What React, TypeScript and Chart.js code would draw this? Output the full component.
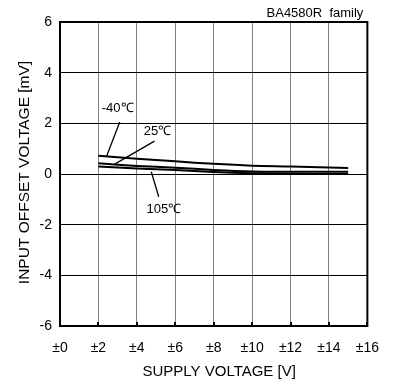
import React, { useEffect, useRef } from 'react';
import { Chart, registerables } from 'chart.js';

Chart.register(...registerables);

const supplyVoltage = [2, 4, 6, 8, 10, 12, 14, 15];
const offsetMinus40 = [0.72, 0.6, 0.5, 0.4, 0.33, 0.3, 0.26, 0.24];
const offset25 = [0.42, 0.32, 0.25, 0.16, 0.1, 0.09, 0.09, 0.09];
const offset105 = [0.3, 0.22, 0.16, 0.08, 0.03, 0.01, 0.0, 0.0];

const xTickValues = [0, 2, 4, 6, 8, 10, 12, 14, 16];
const yTickValues = [-6, -4, -2, 0, 2, 4, 6];

const xTitle = 'SUPPLY VOLTAGE [V]';
const yTitle = 'INPUT OFFSET VOLTAGE [mV]';
const familyLabel = 'BA4580R  family';

const annotationTexts = ['-40℃', '25℃', '105℃'];
const annotationTextX = [3.0, 5.07, 5.41];
const annotationTextY = [2.57, 1.7, -1.38];
const pointerFromX = [3.11, 4.92, 4.75];
const pointerFromY = [2.05, 1.3, 0.09];
const pointerToX = [2.43, 2.85, 5.14];
const pointerToY = [0.71, 0.39, -0.9];

const FONT = '"Liberation Sans", Arial, sans-serif';

export default function App() {
  const ref = useRef<HTMLCanvasElement | null>(null);

  useEffect(() => {
    const canvas = ref.current;
    if (!canvas) return;

    const mk = (vals: number[]) => supplyVoltage.map((x, i) => ({ x, y: vals[i] }));

    const overlay = {
      id: 'overlay',
      afterDraw(chart: any) {
        const { ctx, chartArea } = chart;
        const xs = chart.scales.x;
        const ys = chart.scales.y;
        ctx.save();
        // inward tick marks at bottom
        ctx.strokeStyle = '#000';
        ctx.lineWidth = 2;
        xTickValues.forEach((v) => {
          const px = Math.round(xs.getPixelForValue(v));
          ctx.beginPath();
          ctx.moveTo(px, chartArea.bottom);
          ctx.lineTo(px, chartArea.bottom - 4);
          ctx.stroke();
        });
        // frame
        ctx.lineWidth = 2;
        ctx.strokeRect(chartArea.left, chartArea.top, chartArea.right - chartArea.left, chartArea.bottom - chartArea.top);
        // annotations
        ctx.lineWidth = 1.3;
        ctx.fillStyle = '#000';
        ctx.font = `13px ${FONT}`;
        ctx.textAlign = 'center';
        ctx.textBaseline = 'middle';
        annotationTexts.forEach((t, i) => {
          ctx.fillText(t, xs.getPixelForValue(annotationTextX[i]), ys.getPixelForValue(annotationTextY[i]));
          ctx.beginPath();
          ctx.moveTo(xs.getPixelForValue(pointerFromX[i]), ys.getPixelForValue(pointerFromY[i]));
          ctx.lineTo(xs.getPixelForValue(pointerToX[i]), ys.getPixelForValue(pointerToY[i]));
          ctx.stroke();
        });
        // family label
        ctx.textAlign = 'right';
        ctx.font = `13px ${FONT}`;
        ctx.fillText(familyLabel, chartArea.right - 4, 13);
        // axis titles
        ctx.textBaseline = 'alphabetic';
        ctx.textAlign = 'center';
        ctx.font = `15px ${FONT}`;
        const midX = (chartArea.left + chartArea.right) / 2;
        ctx.fillText(xTitle, midX + 5.5, 376);
        ctx.save();
        const midY = (chartArea.top + chartArea.bottom) / 2;
        ctx.translate(28.5, midY - 1.5);
        ctx.rotate(-Math.PI / 2);
        ctx.font = `15.5px ${FONT}`;
        ctx.fillText(yTitle, 0, 0);
        ctx.restore();
        ctx.restore();
      },
    };

    const lineStyle = {
      borderColor: '#000',
      borderWidth: 2,
      pointRadius: 0,
      fill: false,
      tension: 0.3,
    };

    const chart = new Chart(canvas, {
      type: 'line',
      data: {
        datasets: [
          { label: '-40℃', data: mk(offsetMinus40), ...lineStyle },
          { label: '25℃', data: mk(offset25), ...lineStyle },
          { label: '105℃', data: mk(offset105), ...lineStyle },
        ],
      },
      options: {
        responsive: false,
        animation: false,
        events: [],
        layout: { padding: { top: 22, right: 24, left: 0, bottom: 0 } },
        plugins: { legend: { display: false }, tooltip: { enabled: false }, title: { display: false } },
        scales: {
          x: {
            type: 'linear',
            min: 0,
            max: 16,
            afterFit: (s: any) => { s.height = 54; },
            afterBuildTicks: (s: any) => { s.ticks = xTickValues.map((v) => ({ value: v })); },
            grid: { color: '#808080', lineWidth: 1, drawTicks: false },
            border: { display: false },
            ticks: {
              padding: 14,
              color: '#000',
              font: { family: FONT, size: 14 },
              maxRotation: 0,
              autoSkip: false,
              callback: (v: any) => '±' + v,
            },
            title: { display: false },
          },
          y: {
            type: 'linear',
            min: -6,
            max: 6,
            afterFit: (s: any) => { s.width = 60; },
            afterBuildTicks: (s: any) => { s.ticks = yTickValues.map((v) => ({ value: v })); },
            grid: { color: '#000', lineWidth: 1, drawTicks: false },
            border: { display: false },
            ticks: {
              padding: 8,
              color: '#000',
              font: { family: FONT, size: 14 },
              autoSkip: false,
              callback: (v: any) => String(v),
            },
            title: { display: false },
          },
        },
      },
      plugins: [overlay],
    });

    return () => chart.destroy();
  }, []);

  return (
    <div style={{ position: 'fixed', left: 0, top: 0, width: 393, height: 380, background: '#fff' }}>
      <canvas ref={ref} width={393} height={380} style={{ display: 'block', width: 393, height: 380 }} />
    </div>
  );
}
